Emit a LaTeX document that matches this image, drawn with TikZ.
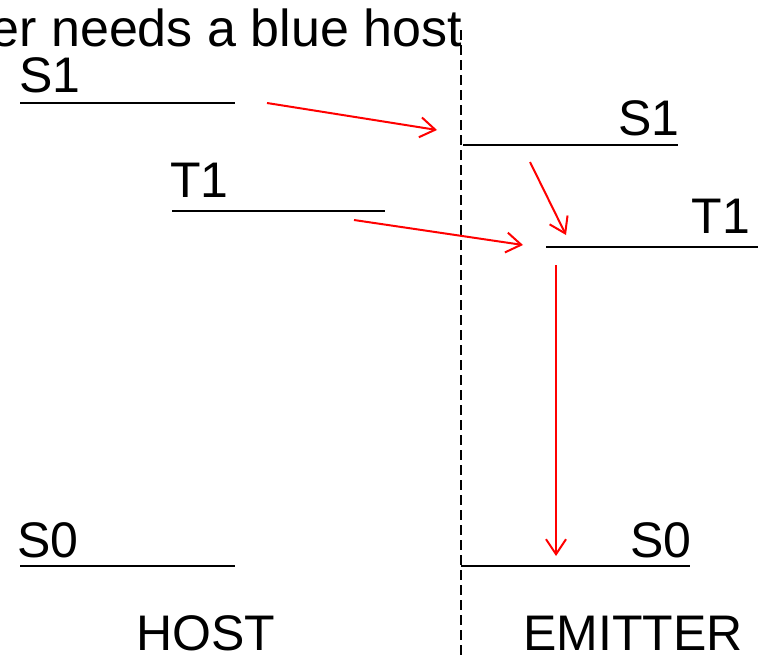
\documentclass[tikz,border=0pt]{standalone}
\usepackage{fontspec}
\setmainfont{Liberation Sans}
\usetikzlibrary{arrows.meta}
\begin{document}
\begin{tikzpicture}[x=1pt,y=-1pt,
  lvl/.style={line width=2.5pt,black},
  lbl/.style={inner sep=0pt,text depth=0pt,font=\fontsize{50}{60}\selectfont},
  trans/.style={red,line width=2pt,-{Straight Barb[length=15pt,width=20pt,line width=2pt]}},
  divider/.style={line width=1.5pt,dash pattern=on 10pt off 5pt}]
\useasboundingbox (0,0) rectangle (758,656);
\clip (0,0) rectangle (758,656);
% title (cropped)
\node[lbl,anchor=base east,font=\fontsize{52}{60}\selectfont] (title) at (462,46) {er needs a blue host};
% divider
\coordinate (dtop) at (461,30);
\coordinate (dbot) at (461,656);
\draw[divider] (dtop) -- (dbot);
% host levels
\coordinate (hS1a) at (20,103);  \coordinate (hS1b) at (235,103);
\coordinate (hT1a) at (172,211); \coordinate (hT1b) at (385,211);
\coordinate (hS0a) at (20,566);  \coordinate (hS0b) at (235,566);
\draw[lvl] (hS1a) -- (hS1b);
\draw[lvl] (hT1a) -- (hT1b);
\draw[lvl] (hS0a) -- (hS0b);
\node[lbl,anchor=base west] (lhS1) at (19,92) {S1};
\node[lbl,anchor=base west] (lhT1) at (170,197) {T1};
\node[lbl,anchor=base west] (lhS0) at (17,557) {S0};
% emitter levels
\coordinate (eS1a) at (463,145); \coordinate (eS1b) at (678,145);
\coordinate (eT1a) at (546,247); \coordinate (eT1b) at (758,247);
\coordinate (eS0a) at (461,566); \coordinate (eS0b) at (690,566);
\draw[lvl] (eS1a) -- (eS1b);
\draw[lvl] (eT1a) -- (eT1b);
\draw[lvl] (eS0a) -- (eS0b);
\node[lbl,anchor=base east] (leS1) at (680,135) {S1};
\node[lbl,anchor=base east] (leT1) at (750,233) {T1};
\node[lbl,anchor=base east] (leS0) at (692,557) {S0};
% bottom labels
\node[lbl,anchor=base] (host) at (206,650) {HOST};
\node[lbl,anchor=base] (emit) at (633,650) {EMITTER};
% transitions
\coordinate (a1s) at (267,103); \coordinate (a1e) at (437,130);
\coordinate (a2s) at (530,162); \coordinate (a2e) at (566,235);
\coordinate (a3s) at (354,220); \coordinate (a3e) at (523,245);
\coordinate (a4s) at (556,265); \coordinate (a4e) at (556,556);
\draw[trans] (a1s) -- (a1e);
\draw[trans] (a2s) -- (a2e);
\draw[trans] (a3s) -- (a3e);
\draw[trans] (a4s) -- (a4e);
\end{tikzpicture}
\end{document}
